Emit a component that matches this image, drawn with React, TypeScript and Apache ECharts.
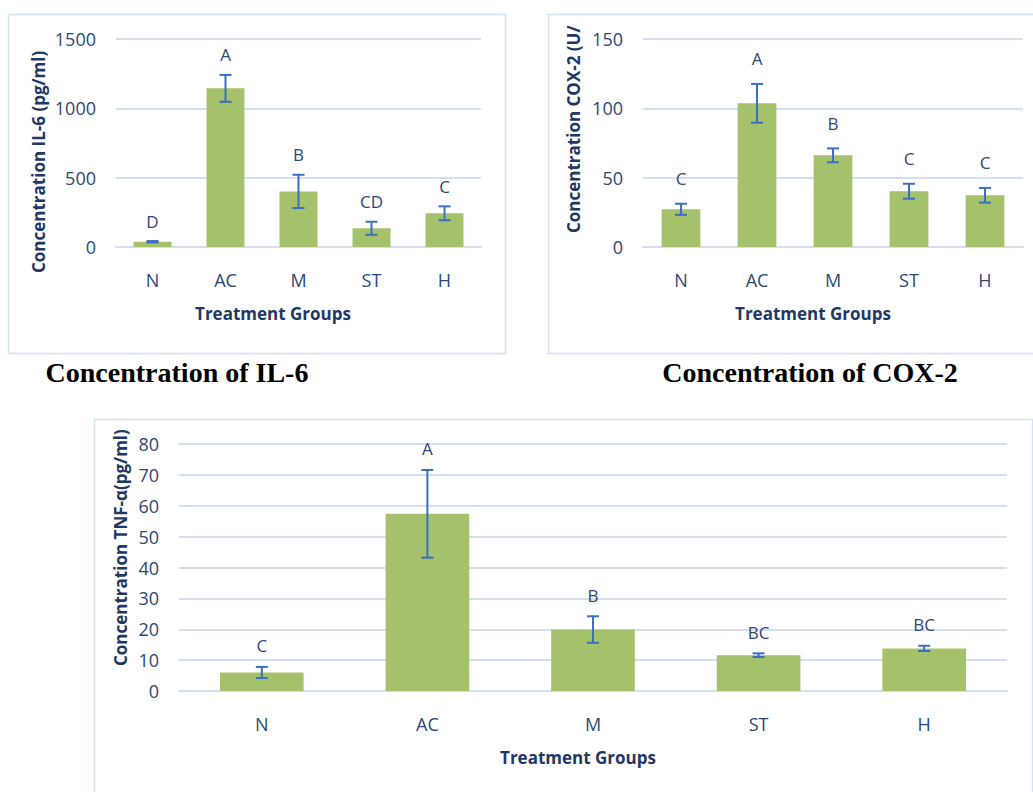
import React, { useEffect, useRef } from "react";
import * as echarts from "echarts";

const categories = ["N", "AC", "M", "ST", "H"];

const il6Means = [38, 1144, 401, 135, 243];
const il6Err = [5, 97, 120, 47, 50];
const il6Letters = ["D", "A", "B", "CD", "C"];

const cox2Means = [27.2, 103.6, 66.1, 40.2, 37.3];
const cox2Err = [4, 14, 5, 5.4, 5.3];
const cox2Letters = ["C", "A", "B", "C", "C"];

const tnfMeans = [6, 57.4, 19.9, 11.6, 13.8];
const tnfErr = [1.8, 14.2, 4.3, 0.6, 0.85];
const tnfLetters = ["C", "A", "B", "BC", "BC"];

const BAR = "#a5c16b";
const ERR = "#3b6fc1";
const GRIDC = "#d3def1";
const FRAME = "#d5e0f2";
const TICK = "#2c4877";
const TITLE = "#1f3864";
const FONT = "'Open Sans', sans-serif";

function errData(means: number[], errs: number[]) {
  return means.map((m, i) => [i, m - errs[i], m + errs[i]]);
}

function makeErrSeries(idx: number, means: number[], errs: number[], letters: string[], offset: number) {
  return {
    type: "custom",
    xAxisIndex: idx,
    yAxisIndex: idx,
    z: 5,
    encode: { x: 0, y: [1, 2] },
    data: errData(means, errs),
    renderItem: (params: any, api: any) => {
      const x = api.value(0);
      const lo = api.coord([x, api.value(1)]);
      const hi = api.coord([x, api.value(2)]);
      const hw = 6;
      const st = { stroke: ERR, lineWidth: 2 };
      return {
        type: "group",
        children: [
          { type: "line", shape: { x1: lo[0], y1: lo[1], x2: hi[0], y2: hi[1] }, style: st },
          { type: "line", shape: { x1: lo[0] - hw, y1: lo[1], x2: lo[0] + hw, y2: lo[1] }, style: st },
          { type: "line", shape: { x1: hi[0] - hw, y1: hi[1], x2: hi[0] + hw, y2: hi[1] }, style: st },
          {
            type: "text",
            x: hi[0],
            y: hi[1] - offset,
            style: {
              text: letters[params.dataIndex],
              fill: TICK,
              font: `17px ${FONT}`,
              align: "center",
              verticalAlign: "middle",
            },
          },
        ],
      };
    },
  };
}

function makeX(idx: number) {
  return {
    type: "category",
    gridIndex: idx,
    data: categories,
    axisLine: { show: true, lineStyle: { color: GRIDC, width: 2 } },
    axisTick: { show: false },
    axisLabel: { color: TICK, fontSize: 18, fontFamily: FONT, margin: 24 },
  };
}

function makeY(idx: number, max: number, interval: number) {
  return {
    type: "value",
    gridIndex: idx,
    min: 0,
    max,
    interval,
    axisLine: { show: false },
    axisTick: { show: false },
    splitLine: { show: true, lineStyle: { color: GRIDC, width: 2 } },
    axisLabel: {
      color: TICK,
      fontSize: 18,
      fontFamily: FONT,
      margin: 20,
      formatter: (v: number) => String(v),
    },
  };
}

function makeBar(idx: number, means: number[], width: string) {
  return {
    type: "bar",
    xAxisIndex: idx,
    yAxisIndex: idx,
    data: means,
    barWidth: width,
    itemStyle: { color: BAR },
    z: 2,
  };
}

function vText(x: number, y: number, text: string) {
  return {
    type: "text",
    x,
    y,
    rotation: Math.PI / 2,
    style: {
      text,
      fill: TITLE,
      font: `bold 17px ${FONT}`,
      align: "left",
      verticalAlign: "middle",
    },
  };
}

function hText(x: number, y: number, text: string) {
  return {
    type: "text",
    x,
    y,
    style: {
      text,
      fill: TITLE,
      font: `bold 17px ${FONT}`,
      align: "center",
      verticalAlign: "middle",
    },
  };
}

function caption(x: number, y: number, text: string) {
  return {
    type: "text",
    x,
    y,
    style: {
      text,
      fill: "#000000",
      font: "bold 28px 'Liberation Serif', 'Times New Roman', serif",
      align: "center",
      verticalAlign: "middle",
    },
  };
}

function frame(x: number, y: number, w: number, h: number) {
  return {
    type: "rect",
    shape: { x, y, width: w, height: h },
    style: { fill: "none", stroke: FRAME, lineWidth: 1.5 },
    z: -1,
  };
}

export default function App() {
  const ref = useRef<HTMLDivElement>(null);
  useEffect(() => {
    if (!ref.current) return;
    const chart = echarts.init(ref.current, undefined, { renderer: "svg" });
    chart.setOption({
      animation: false,
      backgroundColor: "#ffffff",
      grid: [
        { left: 116, top: 39, width: 365, height: 208 },
        { left: 643, top: 39, width: 380, height: 208 },
        { left: 179, top: 444, width: 828, height: 247 },
      ],
      xAxis: [makeX(0), makeX(1), makeX(2)],
      yAxis: [makeY(0, 1500, 500), makeY(1, 150, 50), makeY(2, 80, 10)],
      series: [
        makeBar(0, il6Means, "52%"),
        makeBar(1, cox2Means, "51%"),
        makeBar(2, tnfMeans, "50.5%"),
        makeErrSeries(0, il6Means, il6Err, il6Letters, 20),
        makeErrSeries(1, cox2Means, cox2Err, cox2Letters, 25),
        makeErrSeries(2, tnfMeans, tnfErr, tnfLetters, 21),
      ],
      graphic: [
        frame(8.5, 14.5, 497, 339),
        frame(548.5, 14.5, 500, 339),
        frame(94.5, 419.5, 938, 400),
        vText(38, 273, "Concentration IL-6 (pg/ml)"),
        vText(573, 233, "Concentration COX-2 (U/"),
        vText(120, 666, "Concentration TNF-α(pg/ml)"),
        hText(273, 313, "Treatment Groups"),
        hText(813, 313, "Treatment Groups"),
        hText(578, 757, "Treatment Groups"),
        caption(177, 372, "Concentration of IL-6"),
        caption(810, 372, "Concentration of COX-2"),
      ],
    });
    return () => chart.dispose();
  }, []);
  return (
    <div
      ref={ref}
      style={{ position: "absolute", left: 0, top: 0, width: 1033, height: 792 }}
    />
  );
}
